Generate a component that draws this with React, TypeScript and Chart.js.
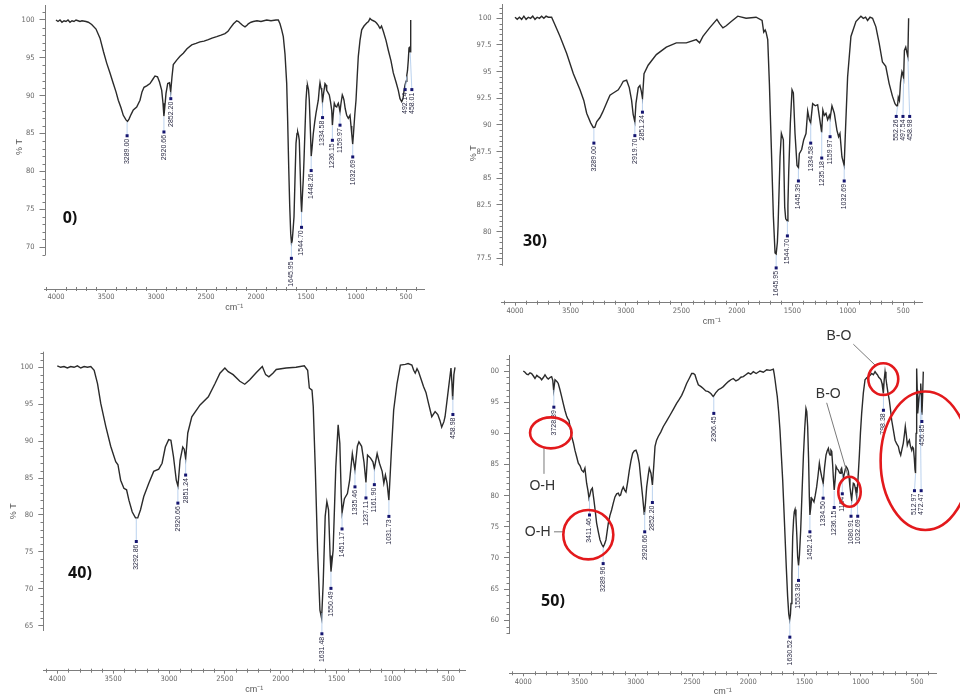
import React, { useEffect, useRef } from "react";
import { Chart, registerables } from "chart.js";

Chart.register(...registerables);

const FONT = "'Liberation Sans', Arial, sans-serif";
const NARROW = "'Liberation Sans Narrow', 'DejaVu Sans Condensed', 'Liberation Sans', Arial, sans-serif";

// ---------------- Panel "0)" ----------------
const wn0 = [4000, 3980, 3960, 3940, 3920, 3900, 3880, 3860, 3840, 3820, 3800, 3780, 3760, 3740, 3700, 3677, 3643, 3600, 3560, 3525, 3493, 3460, 3427, 3400, 3377, 3350, 3327, 3300, 3285, 3270, 3250, 3227, 3193, 3160, 3140, 3120, 3093, 3060, 3030, 3010, 2985, 2965, 2943, 2930, 2921, 2912, 2900, 2883, 2865, 2853, 2840, 2827, 2793, 2760, 2727, 2690, 2643, 2600, 2560, 2520, 2477, 2440, 2393, 2350, 2310, 2280, 2260, 2225, 2193, 2175, 2160, 2135, 2110, 2090, 2077, 2050, 2027, 1990, 1950, 1893, 1850, 1800, 1777, 1760, 1743, 1727, 1710, 1693, 1683, 1673, 1663, 1653, 1645, 1638, 1628, 1620, 1610, 1600, 1590, 1583, 1575, 1567, 1558, 1550, 1544, 1535, 1527, 1520, 1510, 1500, 1490, 1485, 1475, 1467, 1455, 1448, 1440, 1427, 1413, 1400, 1385, 1377, 1365, 1360, 1350, 1343, 1335, 1322, 1310, 1300, 1293, 1280, 1267, 1255, 1243, 1236, 1228, 1217, 1205, 1193, 1185, 1177, 1168, 1160, 1150, 1137, 1128, 1120, 1108, 1093, 1077, 1060, 1050, 1043, 1033, 1025, 1012, 1000, 988, 977, 960, 943, 920, 893, 875, 860, 845, 827, 810, 795, 777, 765, 760, 745, 727, 700, 677, 650, 627, 600, 577, 560, 543, 530, 520, 510, 500, 492, 485, 477, 470, 463, 458, 453];
const t0 = [100.0, 99.8, 100.0, 99.7, 99.9, 99.8, 100.0, 99.7, 99.9, 99.8, 100.0, 99.9, 99.8, 99.9, 99.8, 99.7, 99.4, 98.8, 97.6, 95.8, 94.3, 93.0, 91.6, 90.5, 89.4, 88.4, 87.4, 86.8, 86.6, 86.9, 87.5, 88.1, 88.5, 89.4, 90.5, 91.1, 91.3, 91.6, 92.2, 92.6, 92.5, 91.8, 90.7, 89.0, 87.3, 88.5, 90.3, 91.6, 91.7, 90.5, 92.5, 94.1, 94.7, 95.2, 95.6, 96.2, 96.7, 96.9, 97.1, 97.2, 97.4, 97.6, 97.8, 98.0, 98.2, 98.5, 98.9, 99.5, 99.9, 99.8, 99.6, 99.3, 99.1, 99.3, 99.5, 99.7, 99.8, 99.9, 99.8, 100.0, 99.9, 100.0, 100.0, 99.5, 98.7, 97.8, 95.5, 91.6, 86.5, 80.6, 75.5, 71.8, 70.5, 70.8, 72.5, 74.0, 79.0, 83.7, 85.0, 85.2, 84.8, 84.1, 80.0, 76.2, 74.6, 77.0, 79.0, 81.5, 85.5, 89.4, 91.3, 91.4, 90.8, 89.4, 85.0, 82.0, 83.0, 85.0, 86.5, 87.7, 88.8, 89.4, 91.2, 91.7, 91.0, 90.7, 89.2, 90.5, 91.6, 91.4, 90.7, 90.4, 90.1, 89.2, 88.1, 86.1, 87.5, 89.0, 88.6, 88.5, 88.8, 89.0, 88.5, 87.9, 89.0, 90.1, 89.8, 89.4, 88.3, 87.4, 87.0, 87.4, 86.0, 85.0, 83.6, 85.0, 87.5, 89.4, 92.5, 95.2, 97.3, 98.7, 99.2, 99.6, 99.8, 100.2, 100.0, 99.9, 99.8, 99.6, 99.3, 99.0, 98.9, 99.2, 98.5, 97.3, 96.0, 94.6, 93.0, 91.8, 90.7, 89.6, 89.2, 89.6, 90.6, 91.4, 91.9, 92.7, 93.3, 94.7, 96.3, 96.5, 95.8, 100.0];
const peaks0 = ["3289.00", "2920.66", "2852.20", "1645.95", "1544.70", "1448.26", "1334.58", "1236.15", "1159.97", "1032.69", "492.14", "458.01"];
const marks0 = [84.7, 85.2, 89.6, 68.5, 72.6, 80.1, 87.1, 84.1, 86.1, 81.9, 90.8, 90.8];

// ---------------- Panel "30)" ----------------
const wn30 = [4000, 3980, 3960, 3940, 3920, 3900, 3880, 3860, 3840, 3820, 3800, 3780, 3760, 3740, 3720, 3700, 3670, 3640, 3594, 3534, 3474, 3414, 3380, 3354, 3318, 3294, 3280, 3264, 3234, 3210, 3189, 3165, 3144, 3114, 3069, 3045, 3024, 2994, 2970, 2949, 2935, 2920, 2910, 2889, 2874, 2862, 2851, 2837, 2800, 2726, 2636, 2546, 2456, 2366, 2336, 2306, 2246, 2180, 2156, 2126, 2096, 2051, 1992, 1917, 1827, 1773, 1758, 1745, 1737, 1722, 1707, 1689, 1671, 1656, 1646, 1635, 1629, 1611, 1599, 1581, 1569, 1560, 1545, 1540, 1533, 1518, 1503, 1491, 1476, 1458, 1445, 1437, 1416, 1398, 1377, 1362, 1347, 1335, 1317, 1293, 1272, 1257, 1236, 1225, 1212, 1197, 1182, 1167, 1160, 1143, 1122, 1098, 1083, 1071, 1053, 1033, 1020, 1002, 972, 927, 882, 860, 840, 822, 800, 777, 747, 718, 688, 658, 628, 598, 575, 560, 552, 545, 535, 525, 512, 505, 497, 490, 478, 468, 459, 452];
const t30 = [100.1, 99.9, 100.1, 99.9, 100.2, 99.9, 100.1, 100.0, 100.2, 99.9, 100.1, 100.0, 100.2, 100.0, 100.2, 100.1, 100.1, 99.4, 98.3, 96.7, 94.8, 93.3, 92.3, 91.1, 90.2, 89.75, 89.8, 90.3, 90.7, 91.2, 91.7, 92.3, 92.8, 93.0, 93.3, 93.7, 94.1, 94.2, 93.5, 92.3, 91.0, 90.3, 92.0, 93.5, 93.7, 93.2, 92.5, 94.8, 95.6, 96.6, 97.3, 97.7, 97.7, 98.0, 97.7, 98.3, 99.1, 99.9, 99.5, 99.1, 99.3, 99.7, 100.2, 100.0, 100.1, 99.8, 98.7, 98.9, 98.7, 98.0, 93.9, 87.7, 81.4, 78.0, 77.9, 79.0, 80.5, 87.0, 89.2, 88.6, 82.3, 81.2, 81.0, 82.5, 85.5, 90.2, 93.3, 93.0, 89.2, 86.2, 86.0, 87.3, 87.7, 88.6, 89.2, 91.3, 90.5, 90.2, 92.0, 91.8, 91.9, 90.8, 89.3, 91.4, 90.9, 91.1, 90.5, 90.9, 90.6, 91.8, 91.1, 89.5, 88.9, 89.2, 87.0, 86.2, 89.8, 94.5, 98.3, 99.7, 100.2, 100.0, 100.1, 99.8, 100.1, 100.0, 99.2, 97.7, 95.9, 95.5, 93.9, 92.7, 92.0, 91.8, 91.8, 92.6, 92.3, 94.0, 95.0, 94.8, 94.4, 97.0, 97.3, 96.8, 96.4, 100.0];
const peaks30 = ["3289.00", "2919.70", "2851.24", "1645.95", "1544.70", "1445.39", "1334.58", "1235.18", "1159.97", "1032.69", "552.26", "497.54", "458.98"];
const marks30 = [88.3, 89.0, 91.2, 76.6, 79.6, 84.75, 88.3, 86.9, 88.9, 84.75, 90.8, 90.8, 90.8];

// ---------------- Panel "40)" ----------------
const wn40 = [4000, 3970, 3940, 3910, 3880, 3850, 3820, 3790, 3760, 3730, 3700, 3670, 3640, 3611, 3566, 3522, 3477, 3457, 3433, 3404, 3380, 3359, 3329, 3300, 3280, 3255, 3226, 3181, 3137, 3092, 3062, 3033, 3003, 2983, 2960, 2935, 2920, 2901, 2877, 2864, 2851, 2832, 2796, 2722, 2648, 2588, 2544, 2500, 2470, 2426, 2366, 2322, 2277, 2218, 2165, 2135, 2106, 2070, 2040, 1952, 1863, 1789, 1759, 1744, 1720, 1709, 1691, 1670, 1649, 1634, 1620, 1602, 1587, 1572, 1558, 1550, 1531, 1507, 1486, 1471, 1458, 1451, 1430, 1403, 1383, 1359, 1336, 1314, 1300, 1276, 1255, 1237, 1223, 1196, 1175, 1162, 1137, 1116, 1092, 1077, 1063, 1048, 1032, 1020, 1009, 989, 959, 929, 885, 860, 826, 810, 796, 780, 766, 742, 722, 700, 677, 648, 618, 594, 575, 559, 540, 529, 500, 476, 468, 461, 450, 440];
const t40 = [100.2, 100.0, 100.1, 99.9, 100.1, 100.0, 100.2, 99.9, 100.1, 100.0, 100.1, 99.6, 97.8, 95.1, 92.0, 89.3, 87.2, 86.8, 84.7, 83.6, 83.4, 82.0, 80.4, 79.6, 79.6, 80.7, 82.5, 84.3, 85.9, 86.2, 87.0, 89.2, 90.2, 90.1, 87.9, 84.7, 83.9, 87.4, 89.2, 88.9, 87.6, 91.1, 93.3, 94.9, 96.0, 97.8, 99.2, 99.9, 99.4, 99.0, 98.1, 97.7, 98.3, 99.3, 100.1, 99.0, 98.7, 99.2, 99.7, 99.9, 100.0, 100.2, 99.6, 97.2, 96.9, 94.7, 86.5, 75.2, 67.1, 66.0, 70.7, 79.8, 81.8, 80.7, 74.5, 72.3, 75.2, 86.5, 92.2, 89.7, 82.5, 80.3, 82.2, 82.9, 84.7, 88.3, 86.1, 89.3, 89.9, 89.3, 87.2, 84.4, 88.1, 87.7, 87.2, 86.3, 88.3, 87.0, 85.9, 84.3, 85.4, 84.3, 82.0, 85.5, 88.8, 94.2, 97.8, 100.3, 100.4, 100.5, 100.3, 99.6, 99.2, 99.8, 99.4, 98.3, 97.4, 96.6, 95.1, 93.3, 94.0, 93.6, 92.8, 91.9, 92.6, 93.3, 96.9, 99.9, 98.0, 95.6, 99.0, 100.0];
const peaks40 = ["3292.86", "2920.66", "2851.24", "1631.48", "1550.49", "1451.17", "1335.46", "1237.11", "1161.90", "1031.73", "458.98"];
const marks40 = [76.4, 81.6, 85.4, 63.9, 70.05, 78.1, 83.8, 82.3, 84.1, 79.8, 93.6];

// ---------------- Panel "50)" ----------------
const wn50 = [4000, 3985, 3970, 3956, 3940, 3926, 3910, 3896, 3880, 3867, 3850, 3837, 3820, 3807, 3790, 3778, 3760, 3748, 3738, 3730, 3718, 3700, 3689, 3674, 3659, 3645, 3630, 3615, 3606, 3594, 3582, 3570, 3555, 3541, 3525, 3511, 3495, 3481, 3465, 3452, 3437, 3425, 3416, 3407, 3398, 3386, 3372, 3360, 3348, 3333, 3318, 3303, 3289, 3278, 3265, 3255, 3244, 3230, 3215, 3200, 3185, 3170, 3155, 3145, 3135, 3123, 3111, 3099, 3087, 3072, 3057, 3043, 3028, 3013, 2998, 2984, 2969, 2955, 2939, 2924, 2914, 2903, 2890, 2880, 2865, 2852, 2840, 2829, 2815, 2800, 2778, 2755, 2725, 2696, 2665, 2637, 2615, 2592, 2570, 2548, 2525, 2503, 2488, 2474, 2460, 2444, 2420, 2400, 2378, 2355, 2333, 2311, 2290, 2266, 2244, 2222, 2200, 2177, 2155, 2133, 2110, 2088, 2066, 2044, 2022, 2000, 1978, 1955, 1930, 1896, 1866, 1836, 1806, 1777, 1770, 1762, 1752, 1742, 1730, 1718, 1706, 1694, 1683, 1673, 1662, 1650, 1640, 1632, 1625, 1620, 1612, 1605, 1597, 1591, 1584, 1576, 1568, 1561, 1553, 1545, 1534, 1522, 1510, 1498, 1487, 1480, 1472, 1464, 1457, 1452, 1445, 1436, 1425, 1416, 1405, 1392, 1380, 1368, 1358, 1347, 1334, 1322, 1309, 1298, 1288, 1280, 1273, 1265, 1258, 1250, 1244, 1236, 1228, 1220, 1210, 1199, 1192, 1184, 1176, 1170, 1162, 1155, 1143, 1131, 1120, 1110, 1103, 1096, 1088, 1081, 1073, 1066, 1058, 1051, 1043, 1036, 1025, 1013, 1003, 992, 977, 962, 947, 932, 918, 903, 888, 873, 862, 852, 840, 829, 820, 811, 805, 799, 792, 784, 776, 769, 758, 746, 735, 725, 710, 695, 680, 666, 655, 645, 633, 622, 612, 604, 595, 586, 577, 568, 558, 547, 540, 532, 524, 518, 513, 508, 503, 498, 494, 486, 479, 472, 467, 461, 456, 450, 444];
const t50 = [100.0, 99.8, 99.5, 99.4, 99.7, 99.6, 99.2, 98.8, 99.3, 99.1, 98.9, 98.6, 99.0, 99.4, 98.9, 98.7, 99.0, 99.1, 98.5, 96.9, 98.6, 98.3, 98.0, 97.0, 95.9, 94.8, 93.7, 92.8, 92.4, 92.1, 90.8, 89.5, 88.5, 87.3, 86.2, 85.2, 84.8, 84.1, 83.8, 84.4, 82.0, 80.8, 79.6, 80.2, 80.9, 81.2, 79.3, 77.5, 75.6, 74.2, 72.9, 72.2, 71.8, 72.2, 72.9, 74.2, 75.6, 76.8, 77.7, 78.8, 79.8, 80.3, 80.4, 80.0, 80.1, 80.9, 81.4, 80.9, 80.6, 82.2, 84.1, 85.6, 86.8, 87.2, 87.3, 86.6, 85.2, 82.6, 79.8, 76.9, 78.8, 81.4, 83.2, 84.4, 83.6, 81.7, 84.8, 87.9, 88.9, 89.5, 90.2, 91.1, 92.0, 92.9, 93.9, 94.8, 95.4, 96.1, 97.0, 98.0, 98.8, 99.6, 99.6, 99.4, 98.6, 97.8, 97.5, 97.2, 96.8, 96.7, 96.4, 95.9, 96.5, 97.0, 97.2, 97.5, 97.9, 98.3, 98.6, 98.8, 98.4, 98.6, 99.0, 99.1, 99.4, 99.7, 99.5, 99.9, 99.6, 100.0, 99.8, 100.2, 100.1, 100.3, 99.6, 98.6, 97.2, 95.9, 93.5, 90.5, 86.5, 82.5, 77.8, 73.4, 68.5, 63.8, 61.0, 60.1, 61.0, 62.7, 67.5, 73.4, 76.2, 77.4, 77.8, 76.6, 73.5, 70.2, 68.8, 70.5, 74.5, 80.5, 86.3, 90.8, 94.0, 93.5, 91.1, 86.0, 79.8, 76.9, 78.0, 79.6, 79.3, 79.0, 80.0, 81.4, 83.2, 85.2, 84.0, 83.0, 82.0, 84.5, 86.5, 87.2, 87.6, 86.8, 86.5, 87.3, 87.1, 85.0, 83.0, 80.9, 82.5, 84.7, 84.3, 84.1, 83.8, 83.6, 84.2, 84.4, 83.5, 82.8, 83.8, 84.7, 84.4, 83.9, 82.8, 81.4, 80.2, 79.3, 80.8, 82.0, 81.9, 81.4, 80.6, 79.8, 82.5, 86.3, 90.0, 93.2, 96.5, 98.6, 98.9, 99.1, 99.3, 99.6, 99.4, 99.9, 99.6, 99.4, 99.0, 98.8, 98.6, 98.0, 97.2, 96.4, 98.5, 99.9, 98.8, 97.8, 96.5, 95.3, 93.7, 92.1, 90.5, 88.9, 88.3, 87.9, 87.0, 86.5, 87.5, 88.4, 89.8, 91.1, 89.8, 88.1, 88.6, 88.9, 87.9, 87.3, 87.8, 87.6, 86.0, 84.2, 83.6, 90.0, 100.4, 97.0, 93.2, 94.8, 95.9, 96.5, 98.0, 96.0, 93.0, 96.0, 99.9];
const peaks50 = ["3728.39", "3411.46", "3289.96", "2920.66", "2852.20", "2306.45", "1630.52", "1553.38", "1452.14", "1334.50", "1236.15", "1164", "1080.91", "1032.69", "798.38", "512.97", "472.47", "456.85"];
const marks50 = [94.2, 76.9, 69.1, 74.2, 78.9, 93.2, 57.3, 66.4, 74.2, 79.6, 78.1, 80.3, 76.7, 76.7, 93.7, 80.8, 80.8, 91.9];

// shared axis tick values
const xTickValues = [500, 1000, 1500, 2000, 2500, 3000, 3500, 4000];

// ---------------- Annotations for panel 50 (data coordinates) ----------------
const circles50 = [
  { wn: 3755, t: 90.08, rx: 20.8, ry: 15.5 },
  { wn: 3422, t: 73.74, rx: 25, ry: 24.7 },
  { wn: 1100, t: 80.63, rx: 11.2, ry: 15 },
  { wn: 800, t: 98.7, rx: 15, ry: 15.8 },
  { wn: 426, t: 85.6, rx: 44.7, ry: 69.2 },
];
const notes50 = [
  { text: "O-H", wn: 3831, t: 81.55 },
  { text: "O-H", wn: 3872, t: 74.2 },
  { text: "B-O", wn: 1289, t: 96.26 },
  { text: "B-O", wn: 1194, t: 105.6 },
];
const leaders50 = [
  [3816, 87.76, 3816, 83.5],
  [3727, 74.2, 3638, 74.2],
  [1303, 94.9, 1111, 83.0],
  [1066, 104.3, 873, 100.96],
];

function curveAt(wn: number[], t: number[], w: number) {
  for (let i = 0; i < wn.length - 1; i++) {
    const a = wn[i], b = wn[i + 1];
    if ((a - w) * (b - w) <= 0) {
      const f = a === b ? 0 : (w - a) / (b - a);
      return t[i] + f * (t[i + 1] - t[i]);
    }
  }
  return t[t.length - 1];
}

function drawExtras50(chart: any) {
  const ctx = chart.ctx, xs = chart.scales.x, ys = chart.scales.y;
  const X = (w: number) => xs.getPixelForValue(w);
  const Y = (v: number) => ys.getPixelForValue(v);
  ctx.save();
  ctx.strokeStyle = "#7a7a7a";
  ctx.lineWidth = 1;
  for (const l of leaders50) {
    ctx.beginPath();
    ctx.moveTo(X(l[0]), Y(l[1]));
    ctx.lineTo(X(l[2]), Y(l[3]));
    ctx.stroke();
  }
  ctx.strokeStyle = "#e3191c";
  ctx.lineWidth = 2.6;
  for (const e of circles50) {
    ctx.beginPath();
    ctx.ellipse(X(e.wn), Y(e.t), e.rx, e.ry, 0, 0, Math.PI * 2);
    ctx.stroke();
  }
  ctx.fillStyle = "#333";
  ctx.font = `14px ${FONT}`;
  ctx.textAlign = "center";
  ctx.textBaseline = "middle";
  for (const n of notes50) ctx.fillText(n.text, X(n.wn), Y(n.t));
  ctx.restore();
}

const AXIS = "#7d7d7d";

function makePlugin(cfg: any) {
  return {
    id: "panelDecor",
    afterDraw(chart: any) {
      const ctx = chart.ctx, xs = chart.scales.x, ys = chart.scales.y, a = chart.chartArea;
      ctx.save();
      ctx.strokeStyle = AXIS;
      ctx.lineWidth = 1;
      const yl = Math.round(a.left) + 0.5;
      ctx.beginPath();
      ctx.moveTo(yl, a.top);
      ctx.lineTo(yl, ys.getPixelForValue(cfg.yLineMin));
      for (let v = Math.ceil(cfg.xMin / 100) * 100; v <= cfg.xMax; v += 100) {
        if (v % 500 === 0) continue;
        const px = Math.round(xs.getPixelForValue(v)) + 0.5;
        ctx.moveTo(px, a.bottom - 2);
        ctx.lineTo(px, a.bottom + 2);
      }
      const k0 = Math.ceil(cfg.yLineMin / cfg.yMinor - 1e-6);
      for (let k = k0; k * cfg.yMinor <= cfg.yMax; k++) {
        const v = k * cfg.yMinor;
        const r = v / cfg.yStep;
        if (Math.abs(r - Math.round(r)) < 1e-6) continue;
        const py = Math.round(ys.getPixelForValue(v)) + 0.5;
        ctx.moveTo(yl - 3, py);
        ctx.lineTo(yl, py);
      }
      ctx.stroke();

      ctx.font = `7px ${FONT}`;
      const items = cfg.peaks.map((s: string, i: number) => {
        const w = parseFloat(s);
        const px = xs.getPixelForValue(w);
        const my = ys.getPixelForValue(cfg.marks[i]);
        const len = ctx.measureText(s).width;
        return { s, px, x: px, my, y0: my - 3, y1: my + 5 + len, cy: ys.getPixelForValue(curveAt(cfg.wn, cfg.t, w)) };
      });
      items.sort((p: any, q: any) => p.px - q.px);
      const GAP = 6.7;
      for (let it = 0; it < 40; it++) {
        let moved = false;
        for (let i = 0; i < items.length; i++) {
          for (let j = i + 1; j < items.length; j++) {
            const A = items[i], B = items[j];
            if (A.y1 < B.y0 || B.y1 < A.y0) continue;
            const d = B.x - A.x;
            if (d < GAP - 0.01) {
              const m = (GAP - d) / 2;
              A.x -= m;
              B.x += m;
              moved = true;
            }
          }
        }
        if (!moved) break;
      }
      for (const L of items) {
        ctx.strokeStyle = "#a9c6ea";
        ctx.lineWidth = 0.8;
        ctx.beginPath();
        ctx.moveTo(L.px, L.cy + 1);
        ctx.lineTo(L.x, L.my);
        ctx.stroke();
        ctx.fillStyle = "#151570";
        ctx.fillRect(L.x - 1.5, L.my - 1.5, 3, 3);
        ctx.save();
        ctx.translate(L.x, L.my + 3);
        ctx.rotate(-Math.PI / 2);
        ctx.textAlign = "right";
        ctx.textBaseline = "middle";
        ctx.fillStyle = "#2a2a44";
        ctx.fillText(L.s, 0, 0);
        ctx.restore();
      }

      ctx.fillStyle = "#111";
      ctx.font = `bold 16px 'Open Sans', ${FONT}`;
      ctx.textAlign = "center";
      ctx.textBaseline = "middle";
      ctx.fillText(cfg.tag, xs.getPixelForValue(cfg.tagWn), ys.getPixelForValue(cfg.tagT));
      ctx.restore();

      if (cfg.extras) cfg.extras(chart);
    },
  };
}

function yTickValues(cfg: any) {
  const out: number[] = [];
  const k0 = Math.ceil(cfg.yLineMin / cfg.yStep - 1e-6);
  for (let k = k0; k * cfg.yStep <= 100.0001; k++) out.push(Math.round(k * cfg.yStep * 10) / 10);
  return out;
}

function buildConfig(cfg: any) {
  return {
    type: "line",
    data: {
      datasets: [
        {
          data: cfg.wn.map((w: number, i: number) => ({ x: w, y: cfg.t[i] })),
          borderColor: "#2b2b2b",
          borderWidth: 1.4,
          pointRadius: 0,
          fill: false,
          tension: 0,
        },
      ],
    },
    options: {
      animation: false,
      responsive: false,
      events: [],
      layout: { padding: cfg.pad },
      plugins: { legend: { display: false }, tooltip: { enabled: false }, title: { display: false } },
      scales: {
        x: {
          type: "linear",
          reverse: true,
          min: cfg.xMin,
          max: cfg.xMax,
          afterBuildTicks: (s: any) => {
            s.ticks = xTickValues.map((v) => ({ value: v }));
          },
          afterFit: (s: any) => {
            s.height = cfg.hx;
            s.paddingLeft = 0;
            s.paddingRight = 0;
          },
          grid: { drawOnChartArea: false, drawTicks: true, tickLength: 3, color: AXIS },
          border: { display: true, color: AXIS, width: 1 },
          ticks: {
            autoSkip: false,
            maxRotation: 0,
            minRotation: 0,
            padding: 1,
            color: "#666",
            font: { family: NARROW, size: 7.5 },
            callback: (v: any) => String(v),
          },
          title: { display: true, text: "cm⁻¹", color: "#555", font: { family: FONT, size: 9 }, padding: { top: 0, bottom: 0 } },
        },
        y: {
          type: "linear",
          min: cfg.yMin,
          max: cfg.yMax,
          afterBuildTicks: (s: any) => {
            s.ticks = yTickValues(cfg).map((v) => ({ value: v }));
          },
          afterFit: (s: any) => {
            s.width = cfg.wy;
            s.paddingTop = 0;
            s.paddingBottom = 0;
          },
          grid: { drawOnChartArea: false, drawTicks: true, tickLength: 5, color: AXIS },
          border: { display: false },
          ticks: {
            autoSkip: false,
            padding: 5,
            color: "#666",
            font: { family: NARROW, size: 7.5 },
            callback: (v: any) => String(Math.round(v * 10) / 10),
          },
          title: { display: cfg.yTitle, text: "% T", color: "#555", font: { family: FONT, size: 9 }, padding: { top: 0, bottom: 0 } },
        },
      },
    },
    plugins: [makePlugin(cfg)],
  };
}

const PANELS = [
  {
    wn: wn0, t: t0, peaks: peaks0, marks: marks0,
    tag: "0)", tagWn: 3860, tagT: 73.83,
    box: { left: 0, top: 0, w: 468, h: 330 },
    pad: { left: 14.5, top: 5, right: 44, bottom: 17 },
    wy: 30, hx: 24,
    xMin: 320, xMax: 4115, yMin: 64.45, yMax: 101.98, yLineMin: 68.94, yStep: 5, yMinor: 1, yTitle: true,
  },
  {
    wn: wn30, t: t30, peaks: peaks30, marks: marks30,
    tag: "30)", tagWn: 3820, tagT: 79.06,
    box: { left: 468, top: 0, w: 492, h: 330 },
    pad: { left: 0, top: 4, right: 38, bottom: 3.3 },
    wy: 33.5, hx: 24,
    xMin: 331.4, xMax: 4121.7, yMin: 73.34, yMax: 101.34, yLineMin: 76.8, yStep: 2.5, yMinor: 0.5, yTitle: true,
  },
  {
    wn: wn40, t: t40, peaks: peaks40, marks: marks40,
    tag: "40)", tagWn: 3797, tagT: 72.14,
    box: { left: 0, top: 340, w: 480, h: 357 },
    pad: { left: 8.3, top: 11.7, right: 15, bottom: 2.3 },
    wy: 35, hx: 24,
    xMin: 350.5, xMax: 4125.3, yMin: 58.9, yMax: 102.11, yLineMin: 64.28, yStep: 5, yMinor: 1, yTitle: true,
  },
  {
    wn: wn50, t: t50, peaks: peaks50, marks: marks50,
    tag: "50)", tagWn: 3736, tagT: 62.98,
    box: { left: 490, top: 325, w: 470, h: 372 },
    pad: { left: 0, top: 30, right: 23.3, bottom: 0.2 },
    wy: 19, hx: 23.5,
    xMin: 324.9, xMax: 4127, yMin: 51.5, yMax: 102.57, yLineMin: 57.8, yStep: 5, yMinor: 1, yTitle: false,
    extras: drawExtras50,
  },
];

function Panel({ cfg }: { cfg: any }) {
  const ref = useRef<HTMLCanvasElement>(null);
  useEffect(() => {
    const chart = new Chart(ref.current as HTMLCanvasElement, buildConfig(cfg) as any);
    return () => chart.destroy();
  }, [cfg]);
  return (
    <canvas
      ref={ref}
      width={cfg.box.w}
      height={cfg.box.h}
      style={{ position: "absolute", left: cfg.box.left, top: cfg.box.top, width: cfg.box.w, height: cfg.box.h }}
    />
  );
}

export default function App() {
  return (
    <div style={{ position: "absolute", left: 0, top: 0, width: 960, height: 697, background: "#fff", overflow: "hidden" }}>
      {PANELS.map((p, i) => (
        <Panel key={i} cfg={p} />
      ))}
    </div>
  );
}
